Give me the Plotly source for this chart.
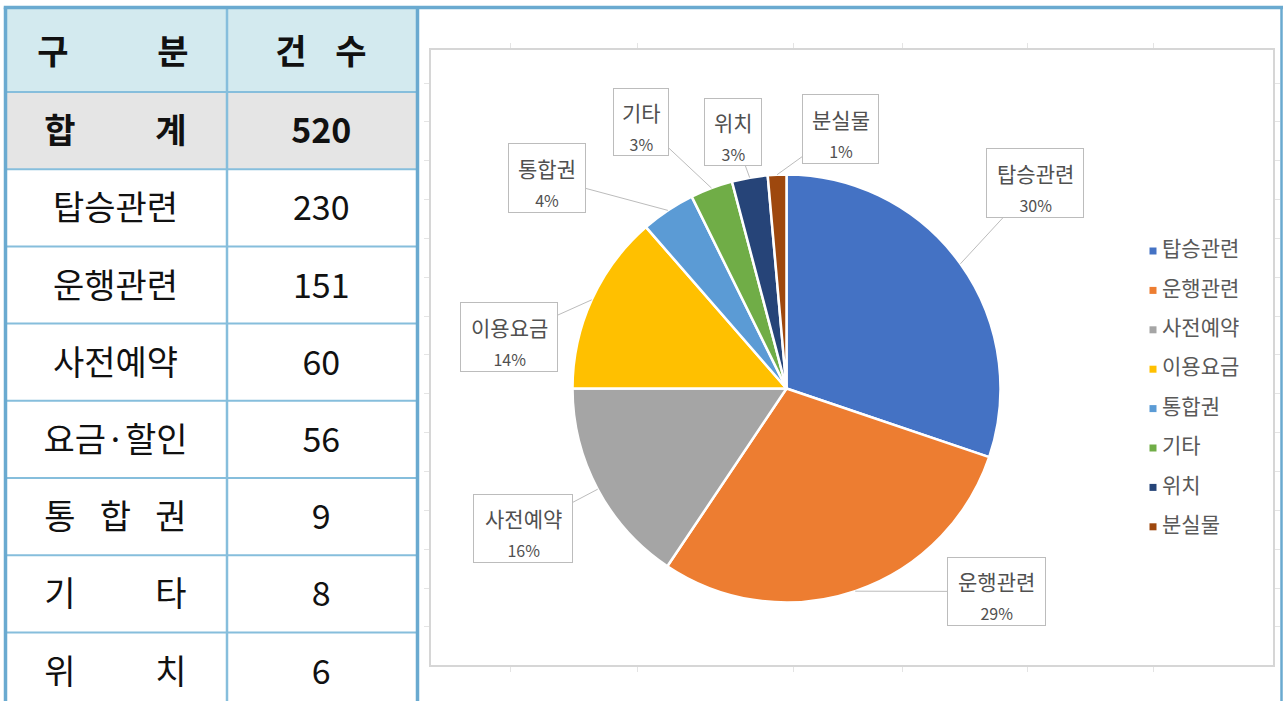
import math
import plotly.graph_objects as go

# ------------------------------------------------------------------ data
HEADER = ["구 분", "건 수"]
TABLE_CATEGORIES = ["합 계", "탑승관련", "운행관련", "사전예약", "요금·할인", "통 합 권", "기 타", "위 치"]
TABLE_COUNTS = [520, 230, 151, 60, 56, 9, 8, 6]

PIE_LABELS = ["탑승관련", "운행관련", "사전예약", "이용요금", "통합권", "기타", "위치", "분실물"]
PIE_VALUES = [30.2, 29.2, 15.6, 13.6, 4.1, 3.2, 2.7, 1.4]
PIE_COLORS = ["#4472C4", "#ED7D31", "#A5A5A5", "#FFC000", "#5B9BD5", "#70AD47", "#264478", "#9E480E"]

# ------------------------------------------------------------------ layout constants (px)
W, H = 1283, 701
FONT = "Noto Sans CJK KR"

T_LEFT, T_MID, T_RIGHT = 5.5, 227, 417.5
T_TOP, HEAD_BOTTOM, ROW_H = 7.5, 92, 77.2
COL1_SPREAD = (60, 171)
COL2_HEAD_SPREAD = (291, 351)
OUTER_COLOR = "#6aaad0"
INNER_COLOR = "#86bedc"
HEAD_FILL = "#d3eaef"
TOTAL_FILL = "#e5e5e5"

PIE_CX, PIE_CY, PIE_R = 786.5, 388.5, 214
BOX = (431, 50, 1273, 665)  # chart frame l, t, r, b

# label box centre positions and sizes (px)
LABEL_BOX = [(1035, 183, 98, 70), (996.5, 591.5, 99, 69), (523, 528.5, 100, 69),
             (509, 337, 98, 70), (547, 178, 78, 70), (641, 122, 56, 68),
             (733, 132, 58, 68), (840.5, 129, 77, 70)]

LEG_X, LEG_Y0, LEG_DY = 1153, 251, 39.4

fig = go.Figure()

# ------------------------------------------------------------------ table
shapes = []
shapes.append(dict(type="rect", xref="x", yref="y", x0=T_LEFT, x1=T_RIGHT, y0=T_TOP, y1=HEAD_BOTTOM,
                   fillcolor=HEAD_FILL, line=dict(width=0), layer="below"))
shapes.append(dict(type="rect", xref="x", yref="y", x0=T_LEFT, x1=T_RIGHT, y0=HEAD_BOTTOM,
                   y1=HEAD_BOTTOM + ROW_H, fillcolor=TOTAL_FILL, line=dict(width=0), layer="below"))
for k in range(len(TABLE_CATEGORIES)):
    yy = HEAD_BOTTOM + k * ROW_H
    shapes.append(dict(type="line", xref="x", yref="y", x0=T_LEFT, x1=T_RIGHT, y0=yy, y1=yy,
                       line=dict(color=INNER_COLOR, width=2), layer="below"))
shapes.append(dict(type="line", xref="x", yref="y", x0=T_MID, x1=T_MID, y0=T_TOP, y1=H,
                   line=dict(color=INNER_COLOR, width=2.5), layer="below"))
shapes.append(dict(type="line", xref="x", yref="y", x0=T_LEFT, x1=T_LEFT, y0=T_TOP, y1=H,
                   line=dict(color=OUTER_COLOR, width=3.5), layer="below"))
shapes.append(dict(type="line", xref="x", yref="y", x0=T_RIGHT, x1=T_RIGHT, y0=T_TOP, y1=H,
                   line=dict(color=OUTER_COLOR, width=3.5), layer="below"))
shapes.append(dict(type="line", xref="x", yref="y", x0=1281.5, x1=1281.5, y0=T_TOP, y1=H,
                   line=dict(color=OUTER_COLOR, width=2.5), layer="below"))
shapes.append(dict(type="line", xref="x", yref="y", x0=T_LEFT - 1.75, x1=W, y0=T_TOP, y1=T_TOP,
                   line=dict(color=OUTER_COLOR, width=3.5), layer="below"))


def spread(label, lo, hi):
    parts = label.split(" ")
    if len(parts) == 1:
        return [(label, (lo + hi) / 2)]
    step = (hi - lo) / (len(parts) - 1)
    return [(p, lo + i * step) for i, p in enumerate(parts)]


tx, ty, tt = [], [], []
head_y = (T_TOP + HEAD_BOTTOM) / 2 + 6
for p, x in spread(HEADER[0], 53, 173):
    tx.append(x); ty.append(head_y); tt.append(f"<b>{p}</b>")
for p, x in spread(HEADER[1], *COL2_HEAD_SPREAD):
    tx.append(x); ty.append(head_y); tt.append(f"<b>{p}</b>")

col2_center = (T_MID + T_RIGHT) / 2 - 1
for i, (cat, cnt) in enumerate(zip(TABLE_CATEGORIES, TABLE_COUNTS)):
    yy = HEAD_BOTTOM + (i + 0.5) * ROW_H + 4
    bold = i == 0
    for p, x in spread(cat, *COL1_SPREAD):
        tx.append(x); ty.append(yy); tt.append(f"<b>{p}</b>" if bold else p)
    tx.append(col2_center); ty.append(yy); tt.append(f"<b>{cnt}</b>" if bold else str(cnt))

fig.add_trace(go.Scatter(x=tx, y=ty, text=tt, mode="text", textposition="middle center",
                         textfont=dict(family=FONT, size=34, color="#111111"),
                         hoverinfo="skip", showlegend=False, xaxis="x", yaxis="y"))

# ------------------------------------------------------------------ pie
fig.add_trace(go.Pie(
    labels=PIE_LABELS, values=PIE_VALUES, sort=False, direction="clockwise", rotation=0,
    marker=dict(colors=PIE_COLORS, line=dict(color="white", width=2.5)),
    textinfo="none", hoverinfo="label+percent", showlegend=False,
    domain=dict(x=[(PIE_CX - PIE_R) / W, (PIE_CX + PIE_R) / W],
                y=[1 - (PIE_CY + PIE_R) / H, 1 - (PIE_CY - PIE_R) / H]),
))

# data labels (callouts) anchored on the slice mid-points
total = sum(PIE_VALUES)
annotations = []
cum = 0.0
for lab, val, (bx, by, bw, bh) in zip(PIE_LABELS, PIE_VALUES, LABEL_BOX):
    mid = (cum + val / 2) / total
    cum += val
    ang = 2 * math.pi * mid
    px = PIE_CX + PIE_R * math.sin(ang)
    py = PIE_CY - PIE_R * math.cos(ang)
    pct = round(val / total * 100)
    # callout box with leader line
    annotations.append(dict(
        x=px, y=py, xref="x", yref="y", ax=bx - px, ay=by - py, axref="pixel", ayref="pixel",
        showarrow=True, arrowhead=0, arrowwidth=1, arrowcolor="#bcbcbc",
        text=" ", font=dict(family=FONT, size=12),
        bordercolor="#bcbcbc", borderwidth=1, borderpad=0, bgcolor="white",
        width=bw - 2, height=bh - 2,
    ))
    # label text inside the box
    annotations.append(dict(
        x=bx, y=by + 4, xref="x", yref="y", showarrow=False,
        text=f"<span style='font-size:21px'>{lab}</span><br><span style='font-size:16px'>{pct}%</span>",
        font=dict(family=FONT, size=23, color="#505050"), align="center",
    ))

# ------------------------------------------------------------------ legend (manual)
ly = [LEG_Y0 + i * LEG_DY for i in range(len(PIE_LABELS))]
fig.add_trace(go.Scatter(x=[LEG_X] * len(PIE_LABELS), y=ly, mode="markers",
                         marker=dict(symbol="square", size=7, color=PIE_COLORS, line=dict(width=0)),
                         hoverinfo="skip", showlegend=False, xaxis="x", yaxis="y"))
fig.add_trace(go.Scatter(x=[LEG_X + 9] * len(PIE_LABELS), y=ly, text=PIE_LABELS, mode="text",
                         textposition="middle right",
                         textfont=dict(family=FONT, size=21, color="#595959"),
                         hoverinfo="skip", showlegend=False, xaxis="x", yaxis="y"))

# ------------------------------------------------------------------ chart frame (x2/y2)
fig.add_trace(go.Scatter(x=[], y=[], xaxis="x2", yaxis="y2", showlegend=False, hoverinfo="skip"))
frame_xt = [510, 637, 793, 902, 1027, 1153]
frame_yt = [83 + 38.85 * k for k in range(15)]

fig.update_layout(
    width=W, height=H, margin=dict(l=0, r=0, t=0, b=0),
    paper_bgcolor="white", plot_bgcolor="rgba(0,0,0,0)",
    xaxis=dict(domain=[0, 1], range=[0, W], visible=False, fixedrange=True),
    yaxis=dict(domain=[0, 1], range=[H, 0], visible=False, fixedrange=True),
    xaxis2=dict(domain=[BOX[0] / W, BOX[2] / W], range=[BOX[0], BOX[2]], anchor="y2",
                showline=True, mirror="ticks", linecolor="#d6d6d6", linewidth=2,
                ticks="outside", ticklen=5, tickcolor="#e4e4e4", tickwidth=1,
                tickvals=frame_xt, showticklabels=False, showgrid=False, zeroline=False,
                fixedrange=True),
    yaxis2=dict(domain=[1 - BOX[3] / H, 1 - BOX[1] / H], range=[BOX[3], BOX[1]], anchor="x2",
                showline=True, mirror="ticks", linecolor="#d6d6d6", linewidth=2,
                ticks="outside", ticklen=5, tickcolor="#e4e4e4", tickwidth=1,
                tickvals=frame_yt, showticklabels=False, showgrid=False, zeroline=False,
                fixedrange=True),
    shapes=shapes,
    annotations=annotations,
    showlegend=False,
)

fig.write_html("out.html", config={"displayModeBar": False},
               post_script="document.body.style.margin='0';document.body.style.overflow='hidden';")
